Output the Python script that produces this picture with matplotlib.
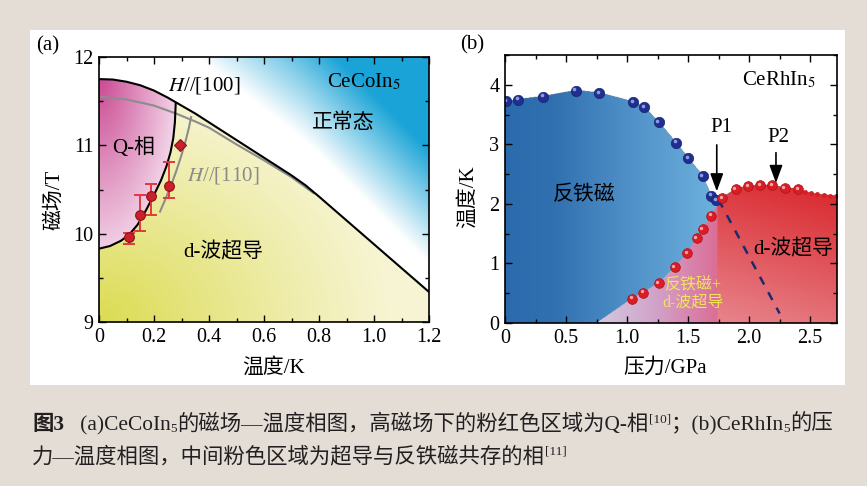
import numpy as np
import matplotlib
matplotlib.use("Agg")
import matplotlib.pyplot as plt
from matplotlib.patches import Rectangle
from matplotlib.transforms import offset_copy
from matplotlib.ticker import MultipleLocator

plt.rcParams['font.family'] = ['Liberation Serif', 'Noto Sans CJK SC', 'DejaVu Sans']
plt.rcParams['mathtext.fontset'] = 'stix'

# ---- (a) CeCoIn5 : field - temperature ----
hc_T = [0, 0.05, 0.1, 0.15, 0.2, 0.25, 0.3, 0.35, 0.4, 0.45, 0.5, 0.55, 0.6, 0.65, 0.7, 0.75,
        0.8, 0.9, 1.0, 1.1, 1.2]
hc_H = [11.75, 11.745, 11.72, 11.68, 11.62, 11.54, 11.45, 11.36, 11.26, 11.16, 11.06, 10.96,
        10.86, 10.76, 10.66, 10.55, 10.42, 10.15, 9.88, 9.61, 9.34]
g_T = [0, 0.1, 0.2, 0.28, 0.35, 0.4, 0.5, 0.6, 0.7, 0.78]
g_H = [11.55, 11.52, 11.45, 11.36, 11.27, 11.2, 11.01, 10.83, 10.64, 10.46]
q_T = [0, 0.04, 0.08, 0.11, 0.14, 0.17, 0.2, 0.225, 0.245, 0.26, 0.27, 0.276, 0.279]
q_H = [9.83, 9.86, 9.92, 9.99, 10.1, 10.26, 10.44, 10.6, 10.76, 10.92, 11.08, 11.26, 11.48]
q2_T = [0.222, 0.24, 0.26, 0.28, 0.3, 0.315, 0.327, 0.335]
q2_H = [10.25, 10.38, 10.53, 10.7, 10.89, 11.05, 11.2, 11.32]
pt_T = [0.11, 0.15, 0.19, 0.253]
pt_H = [9.96, 10.21, 10.43, 10.54]
err_lo = [0.08, 0.18, 0.22, 0.14]
err_hi = [0.05, 0.23, 0.13, 0.27]
dia_T = [0.293]
dia_H = [11.0]
xt_a = [0, 0.2, 0.4, 0.6, 0.8, 1.0, 1.2]
xl_a = ['0', '0.2', '0.4', '0.6', '0.8', '1.0', '1.2']
yt_a = [9, 10, 11, 12]
yl_a = ['9', '10', '11', '12']

# ---- (b) CeRhIn5 : pressure - temperature ----
afm_P = [0.01, 0.11, 0.31, 0.58, 0.77, 1.05, 1.14, 1.26, 1.40, 1.50, 1.62, 1.69, 1.73]
afm_T = [3.72, 3.75, 3.80, 3.90, 3.86, 3.71, 3.62, 3.37, 3.03, 2.77, 2.47, 2.14, 2.06]
sc_P = [1.04, 1.13, 1.26, 1.39, 1.49, 1.57, 1.62, 1.69, 1.78, 1.89, 1.99, 2.09, 2.19, 2.29, 2.40]
sc_T = [0.41, 0.51, 0.67, 0.94, 1.17, 1.43, 1.58, 1.80, 2.10, 2.25, 2.30, 2.31, 2.31, 2.27, 2.25]
tail_P = [2.46, 2.51, 2.56, 2.61, 2.66, 2.71]
tail_T = [2.20, 2.18, 2.16, 2.15, 2.14, 2.13]
sc_start = (0.75, 0.0)
p_split = 1.74
dash_P = [1.75, 2.25]
dash_T = [2.07, 0.16]
xt_b = [0, 0.5, 1.0, 1.5, 2.0, 2.5]
xl_b = ['0', '0.5', '1.0', '1.5', '2.0', '2.5']
yt_b = [0, 1, 2, 3, 4]
yl_b = ['0', '1', '2', '3', '4']

cap1 = [("图3", 15.4, 0, 'bold'), ("   (a)CeCoIn", 15.4, 0, 'normal'), ("5", 9.5, -2, 'normal'),
        ("的磁场—温度相图，高磁场下的粉红色区域为Q-相", 15.4, 0, 'normal'), ("[10]", 9.5, 8, 'normal'),
        ("；(b)CeRhIn", 15.4, 0, 'normal'), ("5", 9.5, -2, 'normal'), ("的压", 15.4, 0, 'normal')]
cap2 = [("力—温度相图，中间粉色区域为超导与反铁磁共存的相", 15.4, 0, 'normal'), ("[11]", 9.5, 8, 'normal')]

W, Hpx = 867, 486
fig = plt.figure(figsize=(W / 100, Hpx / 100), dpi=100, facecolor='#e3ddd6')
fig.patches.append(Rectangle((30 / W, 1 - 385 / Hpx), 815 / W, 355 / Hpx, transform=fig.transFigure,
                             facecolor='white', edgecolor='none', zorder=-10))

ax1 = fig.add_axes([99 / W, 1 - 322 / Hpx, 330 / W, 265 / Hpx])
ax2 = fig.add_axes([505 / W, 1 - 323 / Hpx, 332 / W, 268 / Hpx])

# background colours of panel (a)
T = np.linspace(0, 1.2, 600)
Hg = np.linspace(9, 12, 450)
TT, HH = np.meshgrid(T, Hg)
Hc = np.interp(TT, hc_T, hc_H)
img = np.ones(TT.shape + (3,))
above = HH > Hc
t = np.clip((HH - Hc + 0.4 * TT - 0.8) / 1.3, 0, 1)[..., None]
img = np.where(above[..., None], (1 - t) + t * np.array([0.10, 0.64, 0.84]), img)
r = np.sqrt((TT / 1.2) ** 2 + ((HH - 9) / 3) ** 2)
yv = (np.clip(1 - r / 0.9, 0, 1) ** 1.1)[..., None]
yel = np.array([0.97, 0.96, 0.83]) * (1 - yv) + np.array([0.86, 0.86, 0.32]) * yv
img = np.where((~above)[..., None], yel, img)
Hq = np.interp(TT, q_T, q_H)
inq = (~above) & (TT <= q_T[-1]) & (HH >= Hq)
qv = np.clip(1 - np.sqrt((TT / 0.32) ** 2 + ((11.8 - HH) / 2.3) ** 2), 0, 1)[..., None]
mag = np.array([0.97, 0.90, 0.95]) * (1 - qv) + np.array([0.79, 0.28, 0.57]) * qv
img = np.where(inq[..., None], mag, img)
ax1.imshow(img, extent=[0, 1.2, 9, 12], origin='lower', aspect='auto', zorder=0)

ax1.plot(g_T, g_H, color='#8c8c8c', lw=1.5, zorder=2)
ax1.plot(q2_T, q2_H, color='#8c8c8c', lw=1.5, zorder=2)
ax1.plot(hc_T, hc_H, color='black', lw=1.5, zorder=3)
ax1.plot(q_T, q_H, color='black', lw=1.5, zorder=3)
ax1.errorbar(pt_T, pt_H, yerr=[err_lo, err_hi], fmt='none', ecolor='#e0393e', elinewidth=1.4,
             capsize=4, capthick=1.4, zorder=4)
ax1.plot(pt_T, pt_H, 'o', ms=7, mfc='#c9202b', mec='#8e1018', mew=0.8, zorder=5)
ax1.plot(dia_T, dia_H, 'D', ms=6.5, mfc='#c9202b', mec='#8e1018', mew=0.8, zorder=5)

ax1.set_xlim(0, 1.2)
ax1.set_ylim(9, 12)
ax1.set_xticks(xt_a, xl_a)
ax1.set_yticks(yt_a, yl_a)
ax1.xaxis.set_minor_locator(MultipleLocator(0.1))
ax1.yaxis.set_minor_locator(MultipleLocator(0.5))

ax1.text(0.209, 0.894, '$H$//[100]', transform=ax1.transAxes, fontsize=15, va='center')
ax1.text(0.691, 0.906, 'CeCoIn$_5$', transform=ax1.transAxes, fontsize=15, va='center')
ax1.text(0.645, 0.751, '正常态', transform=ax1.transAxes, fontsize=15, va='center')
ax1.text(0.039, 0.657, 'Q-相', transform=ax1.transAxes, fontsize=15, va='center')
ax1.text(0.267, 0.551, '$H$//[110]', transform=ax1.transAxes, fontsize=15, va='center', color='#8a8a8a')
ax1.text(0.255, 0.264, 'd-波超导', transform=ax1.transAxes, fontsize=15, va='center')

# background colours of panel (b)
P = np.linspace(0, 2.72, 700)
Tb = np.linspace(0, 4.5, 520)
PP, TB = np.meshgrid(P, Tb)
Tn = np.interp(PP, afm_P, afm_T)
edge_P = [sc_start[0]] + sc_P + tail_P
edge_T = [sc_start[1]] + sc_T + tail_T
Tsc = np.interp(PP, edge_P, edge_T)
rgba = np.zeros(PP.shape + (4,))
blue_m = (PP < p_split) & (TB <= Tn)
pink_m = (PP >= sc_start[0]) & (PP < p_split) & (TB <= Tsc)
red_m = (PP >= p_split) & (TB <= Tsc)
bc = np.stack([np.interp(PP, [0, 0.4, 1.0, 1.75], c) for c in
               ([0.17, 0.19, 0.31, 0.43], [0.42, 0.44, 0.56, 0.70], [0.68, 0.69, 0.78, 0.87])], -1)
pc = np.stack([np.interp(PP, [0.75, 1.2, 1.74], c) for c in
               ([0.83, 0.82, 0.86], [0.79, 0.65, 0.43], [0.87, 0.80, 0.59])], -1)
v = (np.clip(TB / 2.3, 0, 1) * 0.8 + np.clip((PP - p_split) / 0.98, 0, 1) * 0.2)[..., None]
rc = np.array([0.91, 0.52, 0.55]) * (1 - v) + np.array([0.85, 0.15, 0.17]) * v
rgba[blue_m, :3] = bc[blue_m]
rgba[blue_m, 3] = 1
rgba[pink_m, :3] = pc[pink_m]
rgba[red_m, :3] = rc[red_m]
rgba[pink_m | red_m, 3] = 1
ax2.imshow(rgba, extent=[0, 2.72, 0, 4.5], origin='lower', aspect='auto', zorder=0)

ax2.plot(dash_P, dash_T, color='#1d2a6b', lw=1.8, dashes=(3.5, 3.5), zorder=3)
hl = offset_copy(ax2.transData, fig=fig, x=-1.3, y=1.3, units='dots')
ax2.plot(afm_P, afm_T, 'o', ms=7.5, mfc='#1f2f8f', mec='#1a2570', mew=0.5, zorder=5)
ax2.plot(afm_P, afm_T, 'o', ms=2.6, mfc='#8f9be0', mec='none', transform=hl, zorder=6)
ax2.plot(sc_P, sc_T, 'o', ms=7, mfc='#d81e24', mec='#b01018', mew=0.5, zorder=5)
ax2.plot(sc_P, sc_T, 'o', ms=2.4, mfc='#f6a6a6', mec='none', transform=hl, zorder=6)
ax2.plot(tail_P, tail_T, 'o', ms=3.5, mfc='#d81e24', mec='none', zorder=5)

arrow = dict(arrowstyle='-|>,head_length=0.6,head_width=0.22', color='black', lw=1.2,
             mutation_scale=18, shrinkA=0, shrinkB=0)
ax2.annotate('', xy=(1.735, 2.21), xytext=(1.735, 2.99), arrowprops=arrow, zorder=7)
ax2.annotate('', xy=(2.22, 2.35), xytext=(2.22, 2.86), arrowprops=arrow, zorder=7)
ax2.text(1.77, 3.28, 'P1', fontsize=15, ha='center', va='center')
ax2.text(2.24, 3.11, 'P2', fontsize=15, ha='center', va='center')
ax2.text(0.714, 0.907, 'CeRhIn$_5$', transform=ax2.transAxes, fontsize=15, va='center')
ax2.text(0.65, 2.15, '反铁磁', fontsize=15, ha='center', va='center')
ax2.text(2.36, 1.24, 'd-波超导', fontsize=15, ha='center', va='center')
ax2.text(1.54, 0.49, '反铁磁+\nd-波超导', fontsize=11.5, ha='center', va='center',
         color='#f2e35a', linespacing=1.05)

ax2.set_xlim(0, 2.72)
ax2.set_ylim(0, 4.5)
ax2.set_xticks(xt_b, xl_b)
ax2.set_yticks(yt_b, yl_b)
ax2.xaxis.set_minor_locator(MultipleLocator(0.25))
ax2.yaxis.set_minor_locator(MultipleLocator(0.5))

for ax in (ax1, ax2):
    ax.tick_params(which='both', direction='in', top=True, right=True, labelsize=14.5, width=1, pad=4)
    ax.tick_params(which='major', length=5)
    ax.tick_params(which='minor', length=3)
    for sp in ax.spines.values():
        sp.set_linewidth(1.2)
        sp.set_zorder(8)

fig.text(36 / W, 1 - 46 / Hpx, '(a)', fontsize=15, va='center')
fig.text(460 / W, 1 - 45 / Hpx, '(b)', fontsize=15, va='center')
fig.text(55 / W, 1 - 200 / Hpx, '磁场/T', fontsize=15, rotation=90, ha='center', va='center')
fig.text(468 / W, 1 - 197 / Hpx, '温度/K', fontsize=15, rotation=90, ha='center', va='center')
fig.text(273 / W, 1 - 368 / Hpx, '温度/K', fontsize=15, ha='center', va='center')
fig.text(665 / W, 1 - 368 / Hpx, '压力/GPa', fontsize=15, ha='center', va='center')


def put_runs(x, y, runs):
    rend = fig.canvas.get_renderer()
    for s, size, dy, weight in runs:
        txt = fig.text(x, y + dy / Hpx, s, fontsize=size, fontweight=weight, va='baseline',
                       ha='left', color='#231f20')
        x += txt.get_window_extent(rend).width / W


put_runs(32 / W, 1 - 430 / Hpx, cap1)
put_runs(32 / W, 1 - 462 / Hpx, cap2)

fig.savefig('out.png', dpi=100, facecolor=fig.get_facecolor())
